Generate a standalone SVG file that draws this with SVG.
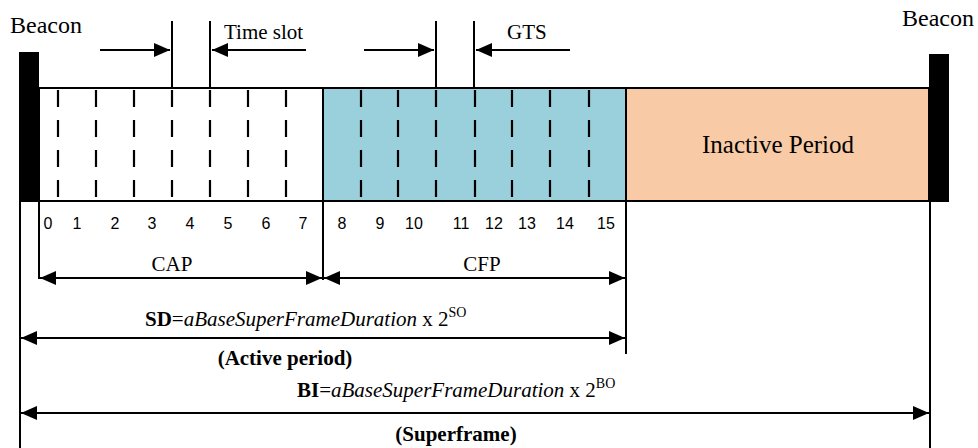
<svg xmlns="http://www.w3.org/2000/svg" width="978" height="448" viewBox="0 0 978 448">
<style>
text.t{font-family:'Liberation Serif','Times New Roman',Tinos,serif;fill:#000}
text.n{font-family:'Liberation Sans',Arial,sans-serif;font-size:16px;fill:#000;text-anchor:middle}
.ln{stroke:#000;stroke-width:2;fill:none}
.box{stroke:#000;stroke-width:2}
.dash{stroke:#000;stroke-width:2.2;stroke-dasharray:17 13;fill:none}
.arr{stroke:#000;stroke-width:2;fill:none}
</style>
<defs>
<marker id="ah" viewBox="0 0 16 14" refX="16" refY="7" markerWidth="16" markerHeight="14" markerUnits="userSpaceOnUse" orient="auto-start-reverse">
<path d="M0,0 L16,7 L0,14 Z" fill="#000"/>
</marker>
</defs>
<rect width="978" height="448" fill="#fff"/>

<g id="cap">
<rect x="39" y="88" width="284" height="113" class="box" style="fill:#fff"/>
<path class="dash" d="M58,90V201M96,90V201M134,90V201M172,90V201M210,90V201M248,90V201M286,90V201"/>
<text class="n" y="229"><tspan x="48">0</tspan><tspan x="77">1</tspan><tspan x="115">2</tspan><tspan x="152">3</tspan><tspan x="190">4</tspan><tspan x="228">5</tspan><tspan x="266">6</tspan><tspan x="303">7</tspan></text>
</g>

<g id="cfp">
<rect x="323" y="88" width="303" height="113" class="box" style="fill:#9ACFDC"/>
<path class="dash" d="M361,90V201M398,90V201M436,90V201M475,90V201M512,90V201M550,90V201M589,90V201"/>
<text class="n" y="229"><tspan x="342">8</tspan><tspan x="380">9</tspan><tspan x="414">10</tspan><tspan x="461">11</tspan><tspan x="494">12</tspan><tspan x="527">13</tspan><tspan x="565">14</tspan><tspan x="606">15</tspan></text>
</g>

<g id="inactive">
<rect x="626" y="88" width="303" height="113" class="box" style="fill:#F8CBA6"/>
<text class="t" x="778" y="153" font-size="25" text-anchor="middle">Inactive Period</text>
</g>

<g id="beacon-left">
<rect x="19" y="52" width="20" height="150" fill="#000"/>
<text class="t" x="10" y="33" font-size="24">Beacon</text>
</g>

<g id="beacon-right">
<rect x="929" y="54" width="20" height="148" fill="#000"/>
<text class="t" x="902" y="26" font-size="24">Beacon</text>
</g>

<g id="time-slot">
<text class="t" x="224" y="39" font-size="21">Time slot</text>
</g>
<g id="gts">
<text class="t" x="507" y="39" font-size="21">GTS</text>
</g>

<g id="labels">
<text class="t" x="172" y="271" font-size="21" text-anchor="middle">CAP</text>
<text class="t" x="482" y="271" font-size="21" text-anchor="middle">CFP</text>
<text class="t" x="145" y="326" font-size="21"><tspan font-weight="bold">SD</tspan>=<tspan font-style="italic">aBaseSuperFrameDuration</tspan> x 2<tspan font-size="14" dy="-9">SO</tspan></text>
<text class="t" x="285" y="365" font-size="21" text-anchor="middle" font-weight="bold">(Active period)</text>
<text class="t" x="297" y="397" font-size="21"><tspan font-weight="bold">BI</tspan>=<tspan font-style="italic">aBaseSuperFrameDuration</tspan> x 2<tspan font-size="14" dy="-9">BO</tspan></text>
<text class="t" x="456" y="441" font-size="21" text-anchor="middle" font-weight="bold">(Superframe)</text>
</g>

<g id="connectors">
<path class="ln" d="M172,21V88M210,21V88M436,21V88M474,21V88"/>
<path class="ln" d="M39,201V279M323,201V280M626,201V354M20,201V448M930,201V448"/>
<line class="arr" x1="100" y1="50" x2="170" y2="50" marker-end="url(#ah)"/>
<line class="arr" x1="306" y1="50" x2="212" y2="50" marker-end="url(#ah)"/>
<line class="arr" x1="364" y1="50" x2="434" y2="50" marker-end="url(#ah)"/>
<line class="arr" x1="570" y1="50" x2="476" y2="50" marker-end="url(#ah)"/>
<line class="arr" x1="40" y1="278" x2="322" y2="278" marker-start="url(#ah)" marker-end="url(#ah)"/>
<line class="arr" x1="324" y1="278" x2="625" y2="278" marker-start="url(#ah)" marker-end="url(#ah)"/>
<line class="arr" x1="21" y1="338" x2="625" y2="338" marker-start="url(#ah)" marker-end="url(#ah)"/>
<line class="arr" x1="21" y1="413" x2="929" y2="413" marker-start="url(#ah)" marker-end="url(#ah)"/>
</g>
</svg>
